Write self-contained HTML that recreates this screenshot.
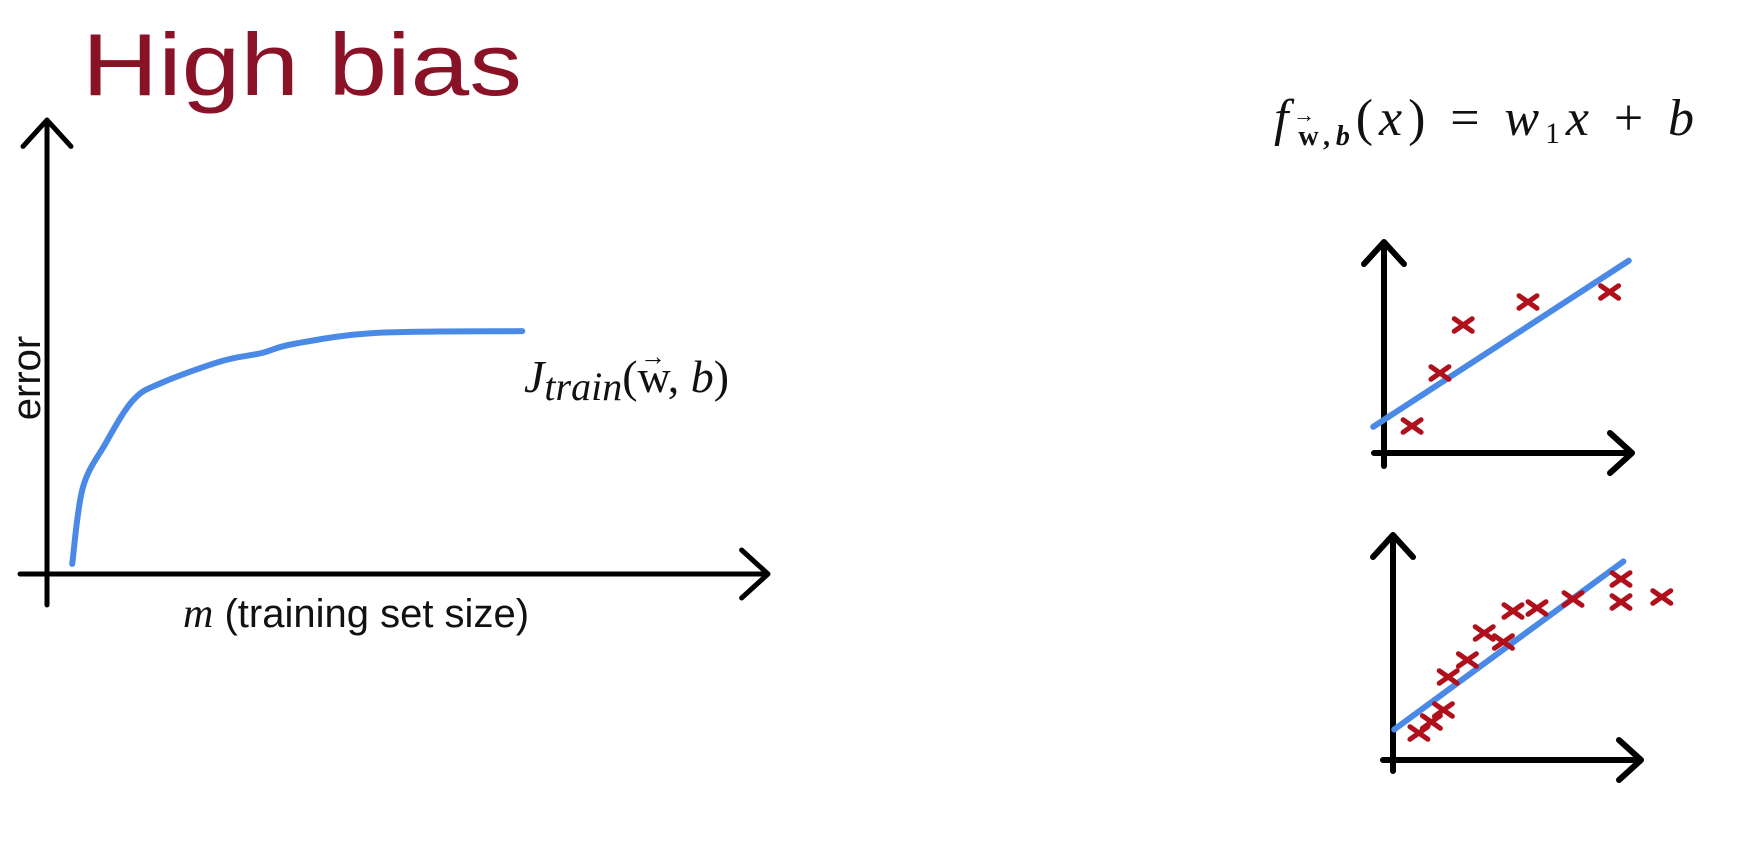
<!DOCTYPE html>
<html><head><meta charset="utf-8"><style>
html,body{margin:0;padding:0;background:#fff;}
svg{display:block;}
</style></head><body>
<svg width="1740" height="850" xmlns="http://www.w3.org/2000/svg">
<text x="82" y="95" font-family="Liberation Sans, sans-serif" font-size="88" textLength="440" lengthAdjust="spacingAndGlyphs" fill="#8a1226">High bias</text>
<g id="left"></g>
<text transform="translate(40,378) rotate(-90)" text-anchor="middle" font-family="Liberation Sans, sans-serif" font-size="40" fill="#111">error</text>
<text x="183" y="627" font-family="Liberation Sans, sans-serif" font-size="40" fill="#111"><tspan font-family="Liberation Serif, serif" font-style="italic" font-size="42">m</tspan> (training set size)</text>
<g font-family="Liberation Serif, serif" fill="#111">
<text x="524" y="392" font-size="46"><tspan font-style="italic">J</tspan><tspan font-style="italic" font-size="40" dy="8">train</tspan><tspan dy="-8">(w, </tspan><tspan font-style="italic">b</tspan>)</text>
<text x="640" y="365" font-size="26">→</text>
</g>
<g font-family="Liberation Serif, serif" fill="#111">
<text x="1274" y="135" font-size="52" textLength="420" lengthAdjust="spacing"><tspan font-style="italic">f</tspan><tspan font-size="28" font-weight="bold" dy="10" dx="4">w,<tspan font-style="italic">b</tspan></tspan><tspan dy="-10">(</tspan><tspan font-style="italic">x</tspan>) = <tspan font-style="italic">w</tspan><tspan font-size="30" dy="8">1</tspan><tspan font-style="italic" dy="-8">x</tspan> + <tspan font-style="italic">b</tspan></text>
<text x="1293" y="122" font-size="22">→</text>
</g>
<g id="top"></g>
<g id="bot"></g>
</svg>
<script>
// Learning curve data
const curveM = [3.6, 5.1, 8.3, 12.3, 16.3, 25, 30.6, 35.3, 47.1, 67.9];
const curveErr = [2.3, 19.5, 29.5, 39.5, 43.4, 48.4, 50.2, 52.3, 54.8, 55.2];
// Small training set
const topX = [1.17, 2.33, 3.3, 6.0, 9.4];
const topY = [1.35, 4.0, 6.4, 7.55, 8.05];
const topW = 0.78, topB = 1.66;
const topLineX = [-0.45, 10.2];
// Large training set
const botX = [1.08, 1.6, 2.1, 2.3, 3.1, 3.8, 4.6, 5.0, 6.0, 7.5, 9.5, 9.5, 11.2];
const botY = [1.35, 1.9, 2.5, 4.15, 5.0, 6.35, 5.9, 7.45, 7.6, 8.05, 9.05, 7.9, 8.15];
const botW = 0.88, botB = 1.48;
const botLineX = [0.05, 9.6];

const NS = 'http://www.w3.org/2000/svg';
function mk(parent, tag, attrs){const e=document.createElementNS(NS,tag);for(const k in attrs)e.setAttribute(k,attrs[k]);parent.appendChild(e);return e;}

function axes(g, ox, oy, top, right, left, bottom, sw, ah){
  const y = mk(g,'path',{d:`M${ox} ${bottom} L${ox} ${top} M${ox-ah} ${top+ah*1.1} L${ox} ${top} L${ox+ah} ${top+ah*1.1}`,stroke:'#000','stroke-width':sw,fill:'none','stroke-linecap':'round','stroke-linejoin':'round'});
  
  
  const x = mk(g,'path',{d:`M${left} ${oy} L${right} ${oy} M${right-ah*1.1} ${oy-ah} L${right} ${oy} L${right-ah*1.1} ${oy+ah}`,stroke:'#000','stroke-width':sw,fill:'none','stroke-linecap':'round','stroke-linejoin':'round'});
  
  
}

function smoothPath(pts){
  let d = `M${pts[0][0]} ${pts[0][1]}`;
  for(let i=0;i<pts.length-1;i++){
    const p0=pts[Math.max(0,i-1)], p1=pts[i], p2=pts[i+1], p3=pts[Math.min(pts.length-1,i+2)];
    const c1=[p1[0]+(p2[0]-p0[0])/6, p1[1]+(p2[1]-p0[1])/6];
    const c2=[p2[0]-(p3[0]-p1[0])/6, p2[1]-(p3[1]-p1[1])/6];
    d += ` C${c1[0]} ${c1[1]} ${c2[0]} ${c2[1]} ${p2[0]} ${p2[1]}`;
  }
  return d;
}

// Left chart
const L = document.getElementById('left');
const lx = m => 47 + m*7, ly = e => 574 - e*4.4;
axes(L, 47, 574, 120, 768, 20, 605, 5, 24);
const cp = mk(L,'path',{d:smoothPath(curveM.map((m,i)=>[lx(m),ly(curveErr[i])])),stroke:'#4a8ae6','stroke-width':6,fill:'none','stroke-linecap':'round','stroke-linejoin':'round'});



function small(g, ox, oy, xs, ys, w, b, lineX, top, right, bottom){
  const sx = v => ox + v*24, sy = v => oy - v*20;
  axes(g, ox, oy, top, right, ox-10, bottom, 6, 20);
  const ln = mk(g,'line',{x1:sx(lineX[0]),y1:sy(b+w*lineX[0]),x2:sx(lineX[1]),y2:sy(b+w*lineX[1]),stroke:'#4a8ae6','stroke-width':6,'stroke-linecap':'round'});
  
  
  xs.forEach((v,i)=>{
    const cx=sx(v), cy=sy(ys[i]), s=9;
    const c = mk(g,'path',{d:`M${cx-s} ${cy-s*0.7} L${cx+s} ${cy+s*0.7} M${cx-s} ${cy+s*0.7} L${cx+s} ${cy-s*0.7}`,stroke:'#b0101c','stroke-width':5,'stroke-linecap':'round'});
    
    
  });
}
small(document.getElementById('top'), 1384, 453, topX, topY, topW, topB, topLineX, 242, 1632, 466);
small(document.getElementById('bot'), 1393, 760, botX, botY, botW, botB, botLineX, 535, 1641, 771);
</script>
</body></html>
